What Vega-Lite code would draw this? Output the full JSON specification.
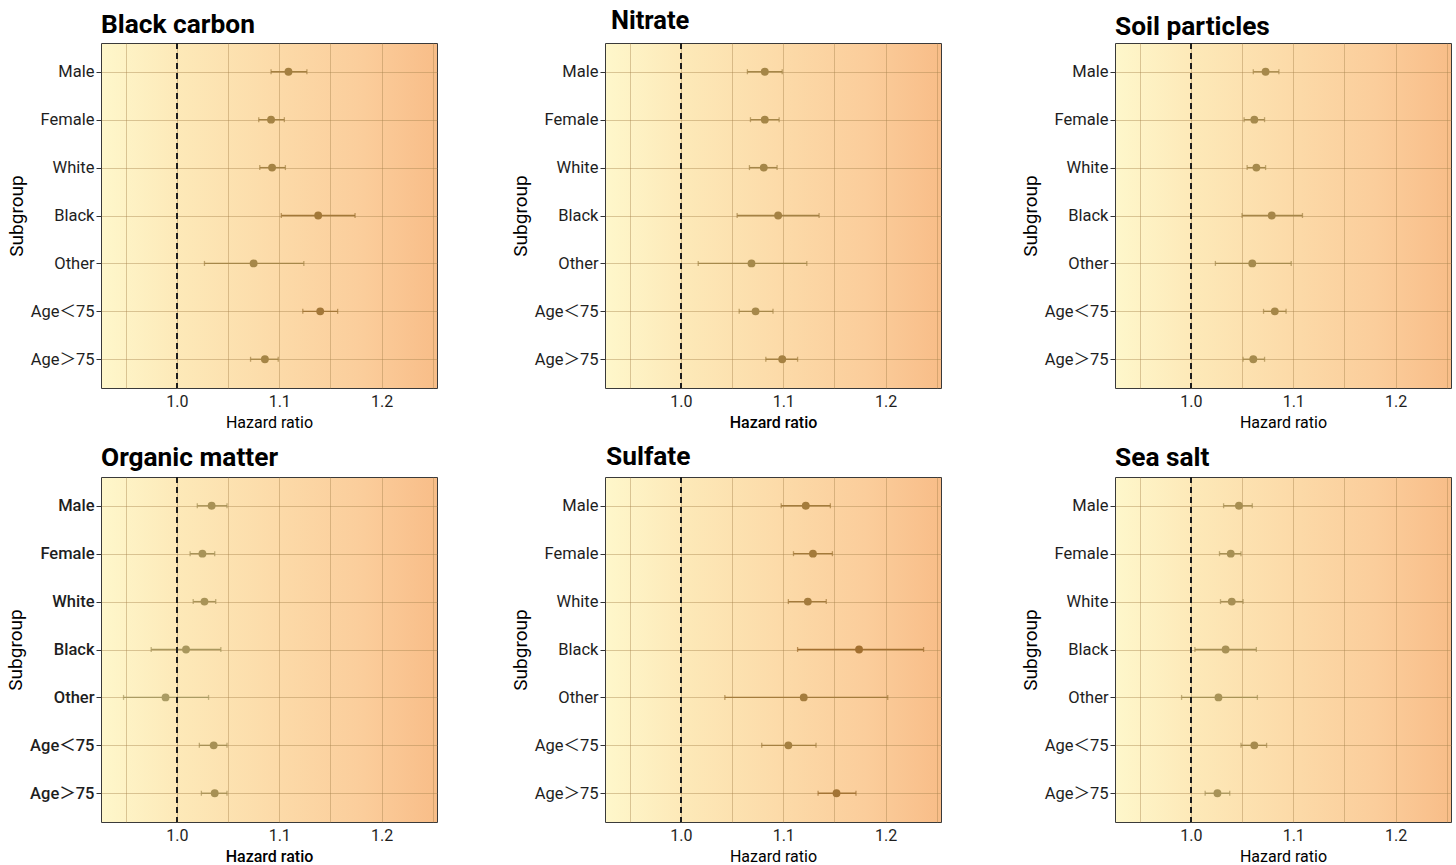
{
  "$schema": "https://vega.github.io/schema/vega-lite/v6.json",
  "padding": {"left": 6, "top": 8, "right": 0, "bottom": 0},
  "background": "white",
  "datasets": {
    "hr": [
      {"pollutant": "Black carbon", "subgroup": "Male", "hr": 1.109, "lo": 1.092, "hi": 1.127},
      {"pollutant": "Black carbon", "subgroup": "Female", "hr": 1.092, "lo": 1.080, "hi": 1.105},
      {"pollutant": "Black carbon", "subgroup": "White", "hr": 1.093, "lo": 1.081, "hi": 1.106},
      {"pollutant": "Black carbon", "subgroup": "Black", "hr": 1.138, "lo": 1.102, "hi": 1.174},
      {"pollutant": "Black carbon", "subgroup": "Other", "hr": 1.075, "lo": 1.027, "hi": 1.124},
      {"pollutant": "Black carbon", "subgroup": "Age＜75", "hr": 1.140, "lo": 1.123, "hi": 1.157},
      {"pollutant": "Black carbon", "subgroup": "Age＞75", "hr": 1.086, "lo": 1.072, "hi": 1.099},
      {"pollutant": "Nitrate", "subgroup": "Male", "hr": 1.082, "lo": 1.065, "hi": 1.099},
      {"pollutant": "Nitrate", "subgroup": "Female", "hr": 1.082, "lo": 1.068, "hi": 1.096},
      {"pollutant": "Nitrate", "subgroup": "White", "hr": 1.081, "lo": 1.067, "hi": 1.094},
      {"pollutant": "Nitrate", "subgroup": "Black", "hr": 1.095, "lo": 1.055, "hi": 1.135},
      {"pollutant": "Nitrate", "subgroup": "Other", "hr": 1.069, "lo": 1.017, "hi": 1.123},
      {"pollutant": "Nitrate", "subgroup": "Age＜75", "hr": 1.073, "lo": 1.057, "hi": 1.090},
      {"pollutant": "Nitrate", "subgroup": "Age＞75", "hr": 1.099, "lo": 1.083, "hi": 1.114},
      {"pollutant": "Soil particles", "subgroup": "Male", "hr": 1.073, "lo": 1.061, "hi": 1.086},
      {"pollutant": "Soil particles", "subgroup": "Female", "hr": 1.062, "lo": 1.052, "hi": 1.072},
      {"pollutant": "Soil particles", "subgroup": "White", "hr": 1.064, "lo": 1.055, "hi": 1.073},
      {"pollutant": "Soil particles", "subgroup": "Black", "hr": 1.079, "lo": 1.050, "hi": 1.109},
      {"pollutant": "Soil particles", "subgroup": "Other", "hr": 1.060, "lo": 1.024, "hi": 1.098},
      {"pollutant": "Soil particles", "subgroup": "Age＜75", "hr": 1.082, "lo": 1.071, "hi": 1.093},
      {"pollutant": "Soil particles", "subgroup": "Age＞75", "hr": 1.061, "lo": 1.051, "hi": 1.072},
      {"pollutant": "Organic matter", "subgroup": "Male", "hr": 1.034, "lo": 1.020, "hi": 1.049},
      {"pollutant": "Organic matter", "subgroup": "Female", "hr": 1.025, "lo": 1.013, "hi": 1.037},
      {"pollutant": "Organic matter", "subgroup": "White", "hr": 1.027, "lo": 1.016, "hi": 1.038},
      {"pollutant": "Organic matter", "subgroup": "Black", "hr": 1.009, "lo": 0.975, "hi": 1.043},
      {"pollutant": "Organic matter", "subgroup": "Other", "hr": 0.989, "lo": 0.948, "hi": 1.031},
      {"pollutant": "Organic matter", "subgroup": "Age＜75", "hr": 1.036, "lo": 1.022, "hi": 1.049},
      {"pollutant": "Organic matter", "subgroup": "Age＞75", "hr": 1.037, "lo": 1.024, "hi": 1.049},
      {"pollutant": "Sulfate", "subgroup": "Male", "hr": 1.122, "lo": 1.098, "hi": 1.146},
      {"pollutant": "Sulfate", "subgroup": "Female", "hr": 1.129, "lo": 1.110, "hi": 1.148},
      {"pollutant": "Sulfate", "subgroup": "White", "hr": 1.124, "lo": 1.105, "hi": 1.142},
      {"pollutant": "Sulfate", "subgroup": "Black", "hr": 1.174, "lo": 1.114, "hi": 1.237},
      {"pollutant": "Sulfate", "subgroup": "Other", "hr": 1.120, "lo": 1.043, "hi": 1.202},
      {"pollutant": "Sulfate", "subgroup": "Age＜75", "hr": 1.105, "lo": 1.079, "hi": 1.132},
      {"pollutant": "Sulfate", "subgroup": "Age＞75", "hr": 1.152, "lo": 1.134, "hi": 1.171},
      {"pollutant": "Sea salt", "subgroup": "Male", "hr": 1.047, "lo": 1.032, "hi": 1.060},
      {"pollutant": "Sea salt", "subgroup": "Female", "hr": 1.039, "lo": 1.028, "hi": 1.049},
      {"pollutant": "Sea salt", "subgroup": "White", "hr": 1.040, "lo": 1.029, "hi": 1.051},
      {"pollutant": "Sea salt", "subgroup": "Black", "hr": 1.034, "lo": 1.004, "hi": 1.064},
      {"pollutant": "Sea salt", "subgroup": "Other", "hr": 1.027, "lo": 0.991, "hi": 1.065},
      {"pollutant": "Sea salt", "subgroup": "Age＜75", "hr": 1.062, "lo": 1.049, "hi": 1.074},
      {"pollutant": "Sea salt", "subgroup": "Age＞75", "hr": 1.026, "lo": 1.014, "hi": 1.038}
    ]
  },
  "data": {"name": "hr"},
  "vconcat": [
    {
      "hconcat": [
        {
          "hconcat": [
            {
              "title": {"text": "Black carbon", "offset": 4.5},
              "width": 336, "height": 345,
              "transform": [{"filter": {"field": "pollutant", "equal": "Black carbon"}}],
              "layer": [
                {"mark": {"type": "rule", "strokeWidth": 1.3},
                 "encoding": {
                   "x": {"field": "lo", "type": "quantitative", "title": "Hazard ratio", "scale": {"domain": [0.926, 1.254], "nice": false, "zero": false}, "axis": {"values": [0.95, 1, 1.05, 1.1, 1.15, 1.2, 1.25], "labelExpr": "abs(datum.value*10 - round(datum.value*10)) < 0.001 ? format(datum.value, '.1f') : ''"}},
                   "x2": {"field": "hi"},
                   "y": {"field": "subgroup", "type": "nominal", "title": "Subgroup", "sort": ["Male", "Female", "White", "Black", "Other", "Age＜75", "Age＞75"], "scale": {"type": "point", "padding": 0.6}},
                   "color": {"field": "hr", "type": "quantitative", "scale": {"domain": [0.99, 1.18], "range": ["#aa9b63", "#a26d2e"]}, "legend": null}}},
                {"mark": {"type": "tick", "size": 5, "thickness": 1.3},
                 "encoding": {"x": {"field": "lo", "type": "quantitative", "title": "Hazard ratio"}, "y": {"field": "subgroup", "type": "nominal", "sort": ["Male", "Female", "White", "Black", "Other", "Age＜75", "Age＞75"]}, "color": {"field": "hr", "type": "quantitative", "legend": null}}},
                {"mark": {"type": "tick", "size": 5, "thickness": 1.3},
                 "encoding": {"x": {"field": "hi", "type": "quantitative", "title": "Hazard ratio"}, "y": {"field": "subgroup", "type": "nominal", "sort": ["Male", "Female", "White", "Black", "Other", "Age＜75", "Age＞75"]}, "color": {"field": "hr", "type": "quantitative", "legend": null}}},
                {"mark": {"type": "rule", "strokeDash": [6, 4], "color": "#1f1f1f", "strokeWidth": 1.4},
                 "encoding": {"x": {"datum": 1, "type": "quantitative", "title": "Hazard ratio"}}},
                {"mark": {"type": "circle", "size": 62, "opacity": 1},
                 "encoding": {"x": {"field": "hr", "type": "quantitative", "title": "Hazard ratio"}, "y": {"field": "subgroup", "type": "nominal", "sort": ["Male", "Female", "White", "Black", "Other", "Age＜75", "Age＞75"]}, "color": {"field": "hr", "type": "quantitative", "legend": null}}}
              ]
            },
            {
              "title": {"text": "Nitrate", "offset": 8, "dx": 6, "fontSize": 25.5},
              "width": 336, "height": 345,
              "transform": [{"filter": {"field": "pollutant", "equal": "Nitrate"}}],
              "layer": [
                {"mark": {"type": "rule", "strokeWidth": 1.3},
                 "encoding": {
                   "x": {"field": "lo", "type": "quantitative", "title": "Hazard ratio", "scale": {"domain": [0.926, 1.254], "nice": false, "zero": false}, "axis": {"values": [0.95, 1, 1.05, 1.1, 1.15, 1.2, 1.25], "titleFontWeight": 500, "labelExpr": "abs(datum.value*10 - round(datum.value*10)) < 0.001 ? format(datum.value, '.1f') : ''"}},
                   "x2": {"field": "hi"},
                   "y": {"field": "subgroup", "type": "nominal", "title": "Subgroup", "sort": ["Male", "Female", "White", "Black", "Other", "Age＜75", "Age＞75"], "scale": {"type": "point", "padding": 0.6}},
                   "color": {"field": "hr", "type": "quantitative", "scale": {"domain": [0.99, 1.18], "range": ["#aa9b63", "#a26d2e"]}, "legend": null}}},
                {"mark": {"type": "tick", "size": 5, "thickness": 1.3},
                 "encoding": {"x": {"field": "lo", "type": "quantitative", "title": "Hazard ratio"}, "y": {"field": "subgroup", "type": "nominal", "sort": ["Male", "Female", "White", "Black", "Other", "Age＜75", "Age＞75"]}, "color": {"field": "hr", "type": "quantitative", "legend": null}}},
                {"mark": {"type": "tick", "size": 5, "thickness": 1.3},
                 "encoding": {"x": {"field": "hi", "type": "quantitative", "title": "Hazard ratio"}, "y": {"field": "subgroup", "type": "nominal", "sort": ["Male", "Female", "White", "Black", "Other", "Age＜75", "Age＞75"]}, "color": {"field": "hr", "type": "quantitative", "legend": null}}},
                {"mark": {"type": "rule", "strokeDash": [6, 4], "color": "#1f1f1f", "strokeWidth": 1.4},
                 "encoding": {"x": {"datum": 1, "type": "quantitative", "title": "Hazard ratio"}}},
                {"mark": {"type": "circle", "size": 62, "opacity": 1},
                 "encoding": {"x": {"field": "hr", "type": "quantitative", "title": "Hazard ratio"}, "y": {"field": "subgroup", "type": "nominal", "sort": ["Male", "Female", "White", "Black", "Other", "Age＜75", "Age＞75"]}, "color": {"field": "hr", "type": "quantitative", "legend": null}}}
              ]
            }
          ],
          "spacing": 72
        },
        {
          "title": {"text": "Soil particles", "offset": 2.5},
          "width": 336, "height": 345,
          "transform": [{"filter": {"field": "pollutant", "equal": "Soil particles"}}],
          "layer": [
            {"mark": {"type": "rule", "strokeWidth": 1.3},
             "encoding": {
               "x": {"field": "lo", "type": "quantitative", "title": "Hazard ratio", "scale": {"domain": [0.926, 1.254], "nice": false, "zero": false}, "axis": {"values": [0.95, 1, 1.05, 1.1, 1.15, 1.2, 1.25], "labelExpr": "abs(datum.value*10 - round(datum.value*10)) < 0.001 ? format(datum.value, '.1f') : ''"}},
               "x2": {"field": "hi"},
               "y": {"field": "subgroup", "type": "nominal", "title": "Subgroup", "sort": ["Male", "Female", "White", "Black", "Other", "Age＜75", "Age＞75"], "scale": {"type": "point", "padding": 0.6}},
               "color": {"field": "hr", "type": "quantitative", "scale": {"domain": [0.99, 1.18], "range": ["#aa9b63", "#a26d2e"]}, "legend": null}}},
            {"mark": {"type": "tick", "size": 5, "thickness": 1.3},
             "encoding": {"x": {"field": "lo", "type": "quantitative", "title": "Hazard ratio"}, "y": {"field": "subgroup", "type": "nominal", "sort": ["Male", "Female", "White", "Black", "Other", "Age＜75", "Age＞75"]}, "color": {"field": "hr", "type": "quantitative", "legend": null}}},
            {"mark": {"type": "tick", "size": 5, "thickness": 1.3},
             "encoding": {"x": {"field": "hi", "type": "quantitative", "title": "Hazard ratio"}, "y": {"field": "subgroup", "type": "nominal", "sort": ["Male", "Female", "White", "Black", "Other", "Age＜75", "Age＞75"]}, "color": {"field": "hr", "type": "quantitative", "legend": null}}},
            {"mark": {"type": "rule", "strokeDash": [6, 4], "color": "#1f1f1f", "strokeWidth": 1.4},
             "encoding": {"x": {"datum": 1, "type": "quantitative", "title": "Hazard ratio"}}},
            {"mark": {"type": "circle", "size": 62, "opacity": 1},
             "encoding": {"x": {"field": "hr", "type": "quantitative", "title": "Hazard ratio"}, "y": {"field": "subgroup", "type": "nominal", "sort": ["Male", "Female", "White", "Black", "Other", "Age＜75", "Age＞75"]}, "color": {"field": "hr", "type": "quantitative", "legend": null}}}
          ]
        }
      ],
      "spacing": 78
    },
    {
      "hconcat": [
        {
          "hconcat": [
            {
              "title": {"text": "Organic matter", "offset": 5.5},
              "width": 336, "height": 345,
              "transform": [{"filter": {"field": "pollutant", "equal": "Organic matter"}}],
              "layer": [
                {"mark": {"type": "rule", "strokeWidth": 1.3},
                 "encoding": {
                   "x": {"field": "lo", "type": "quantitative", "title": "Hazard ratio", "scale": {"domain": [0.926, 1.254], "nice": false, "zero": false}, "axis": {"values": [0.95, 1, 1.05, 1.1, 1.15, 1.2, 1.25], "titleFontWeight": 500, "labelExpr": "abs(datum.value*10 - round(datum.value*10)) < 0.001 ? format(datum.value, '.1f') : ''"}},
                   "x2": {"field": "hi"},
                   "y": {"field": "subgroup", "type": "nominal", "title": "Subgroup", "sort": ["Male", "Female", "White", "Black", "Other", "Age＜75", "Age＞75"], "scale": {"type": "point", "padding": 0.6}, "axis": {"labelFontWeight": 500}},
                   "color": {"field": "hr", "type": "quantitative", "scale": {"domain": [0.99, 1.18], "range": ["#aa9b63", "#a26d2e"]}, "legend": null}}},
                {"mark": {"type": "tick", "size": 5, "thickness": 1.3},
                 "encoding": {"x": {"field": "lo", "type": "quantitative", "title": "Hazard ratio"}, "y": {"field": "subgroup", "type": "nominal", "sort": ["Male", "Female", "White", "Black", "Other", "Age＜75", "Age＞75"]}, "color": {"field": "hr", "type": "quantitative", "legend": null}}},
                {"mark": {"type": "tick", "size": 5, "thickness": 1.3},
                 "encoding": {"x": {"field": "hi", "type": "quantitative", "title": "Hazard ratio"}, "y": {"field": "subgroup", "type": "nominal", "sort": ["Male", "Female", "White", "Black", "Other", "Age＜75", "Age＞75"]}, "color": {"field": "hr", "type": "quantitative", "legend": null}}},
                {"mark": {"type": "rule", "strokeDash": [6, 4], "color": "#1f1f1f", "strokeWidth": 1.4},
                 "encoding": {"x": {"datum": 1, "type": "quantitative", "title": "Hazard ratio"}}},
                {"mark": {"type": "circle", "size": 62, "opacity": 1},
                 "encoding": {"x": {"field": "hr", "type": "quantitative", "title": "Hazard ratio"}, "y": {"field": "subgroup", "type": "nominal", "sort": ["Male", "Female", "White", "Black", "Other", "Age＜75", "Age＞75"]}, "color": {"field": "hr", "type": "quantitative", "legend": null}}}
              ]
            },
            {
              "title": {"text": "Sulfate", "offset": 6.5, "dx": 1},
              "width": 336, "height": 345,
              "transform": [{"filter": {"field": "pollutant", "equal": "Sulfate"}}],
              "layer": [
                {"mark": {"type": "rule", "strokeWidth": 1.3},
                 "encoding": {
                   "x": {"field": "lo", "type": "quantitative", "title": "Hazard ratio", "scale": {"domain": [0.926, 1.254], "nice": false, "zero": false}, "axis": {"values": [0.95, 1, 1.05, 1.1, 1.15, 1.2, 1.25], "labelExpr": "abs(datum.value*10 - round(datum.value*10)) < 0.001 ? format(datum.value, '.1f') : ''"}},
                   "x2": {"field": "hi"},
                   "y": {"field": "subgroup", "type": "nominal", "title": "Subgroup", "sort": ["Male", "Female", "White", "Black", "Other", "Age＜75", "Age＞75"], "scale": {"type": "point", "padding": 0.6}},
                   "color": {"field": "hr", "type": "quantitative", "scale": {"domain": [0.99, 1.18], "range": ["#aa9b63", "#a26d2e"]}, "legend": null}}},
                {"mark": {"type": "tick", "size": 5, "thickness": 1.3},
                 "encoding": {"x": {"field": "lo", "type": "quantitative", "title": "Hazard ratio"}, "y": {"field": "subgroup", "type": "nominal", "sort": ["Male", "Female", "White", "Black", "Other", "Age＜75", "Age＞75"]}, "color": {"field": "hr", "type": "quantitative", "legend": null}}},
                {"mark": {"type": "tick", "size": 5, "thickness": 1.3},
                 "encoding": {"x": {"field": "hi", "type": "quantitative", "title": "Hazard ratio"}, "y": {"field": "subgroup", "type": "nominal", "sort": ["Male", "Female", "White", "Black", "Other", "Age＜75", "Age＞75"]}, "color": {"field": "hr", "type": "quantitative", "legend": null}}},
                {"mark": {"type": "rule", "strokeDash": [6, 4], "color": "#1f1f1f", "strokeWidth": 1.4},
                 "encoding": {"x": {"datum": 1, "type": "quantitative", "title": "Hazard ratio"}}},
                {"mark": {"type": "circle", "size": 62, "opacity": 1},
                 "encoding": {"x": {"field": "hr", "type": "quantitative", "title": "Hazard ratio"}, "y": {"field": "subgroup", "type": "nominal", "sort": ["Male", "Female", "White", "Black", "Other", "Age＜75", "Age＞75"]}, "color": {"field": "hr", "type": "quantitative", "legend": null}}}
              ]
            }
          ],
          "spacing": 72
        },
        {
          "title": {"text": "Sea salt", "offset": 5.5},
          "width": 336, "height": 345,
          "transform": [{"filter": {"field": "pollutant", "equal": "Sea salt"}}],
          "layer": [
            {"mark": {"type": "rule", "strokeWidth": 1.3},
             "encoding": {
               "x": {"field": "lo", "type": "quantitative", "title": "Hazard ratio", "scale": {"domain": [0.926, 1.254], "nice": false, "zero": false}, "axis": {"values": [0.95, 1, 1.05, 1.1, 1.15, 1.2, 1.25], "labelExpr": "abs(datum.value*10 - round(datum.value*10)) < 0.001 ? format(datum.value, '.1f') : ''"}},
               "x2": {"field": "hi"},
               "y": {"field": "subgroup", "type": "nominal", "title": "Subgroup", "sort": ["Male", "Female", "White", "Black", "Other", "Age＜75", "Age＞75"], "scale": {"type": "point", "padding": 0.6}},
               "color": {"field": "hr", "type": "quantitative", "scale": {"domain": [0.99, 1.18], "range": ["#aa9b63", "#a26d2e"]}, "legend": null}}},
            {"mark": {"type": "tick", "size": 5, "thickness": 1.3},
             "encoding": {"x": {"field": "lo", "type": "quantitative", "title": "Hazard ratio"}, "y": {"field": "subgroup", "type": "nominal", "sort": ["Male", "Female", "White", "Black", "Other", "Age＜75", "Age＞75"]}, "color": {"field": "hr", "type": "quantitative", "legend": null}}},
            {"mark": {"type": "tick", "size": 5, "thickness": 1.3},
             "encoding": {"x": {"field": "hi", "type": "quantitative", "title": "Hazard ratio"}, "y": {"field": "subgroup", "type": "nominal", "sort": ["Male", "Female", "White", "Black", "Other", "Age＜75", "Age＞75"]}, "color": {"field": "hr", "type": "quantitative", "legend": null}}},
            {"mark": {"type": "rule", "strokeDash": [6, 4], "color": "#1f1f1f", "strokeWidth": 1.4},
             "encoding": {"x": {"datum": 1, "type": "quantitative", "title": "Hazard ratio"}}},
            {"mark": {"type": "circle", "size": 62, "opacity": 1},
             "encoding": {"x": {"field": "hr", "type": "quantitative", "title": "Hazard ratio"}, "y": {"field": "subgroup", "type": "nominal", "sort": ["Male", "Female", "White", "Black", "Other", "Age＜75", "Age＞75"]}, "color": {"field": "hr", "type": "quantitative", "legend": null}}}
          ]
        }
      ],
      "spacing": 78
    }
  ],
  "spacing": 12,
  "config": {
    "font": "Roboto, 'Noto Sans CJK SC', sans-serif",
    "view": {
      "stroke": "#3a3a3a",
      "strokeWidth": 1,
      "fill": {"gradient": "linear", "x1": 0, "y1": 0, "x2": 1, "y2": 0,
        "stops": [
          {"offset": 0, "color": "#fef7cb"},
          {"offset": 0.23, "color": "#fde9b8"},
          {"offset": 0.53, "color": "#fcdaa8"},
          {"offset": 0.78, "color": "#fbcd9b"},
          {"offset": 1, "color": "#f8bd88"}
        ]}
    },
    "title": {"font": "Roboto", "fontSize": 26.3, "fontWeight": "bold", "color": "#000000", "anchor": "start", "baseline": "alphabetic", "frame": "group"},
    "axis": {
      "labelFont": "Roboto, 'Noto Sans CJK SC', sans-serif",
      "titleFont": "Roboto",
      "labelColor": "#1e1e1e",
      "titleColor": "#000000",
      "titleFontWeight": "normal",
      "domain": false,
      "grid": true,
      "gridColor": "#a8844c",
      "gridOpacity": 0.42,
      "gridWidth": 1
    },
    "axisX": {"ticks": false, "tickSize": 0, "labelPadding": 5, "labelFontSize": 16, "titleFontSize": 16, "titlePadding": 5},
    "axisY": {"grid": true, "ticks": true, "tickSize": 5, "tickColor": "#333333", "labelPadding": 2, "labelFontSize": 16.5, "titleFontSize": 19, "titlePadding": 4}
  }
}
